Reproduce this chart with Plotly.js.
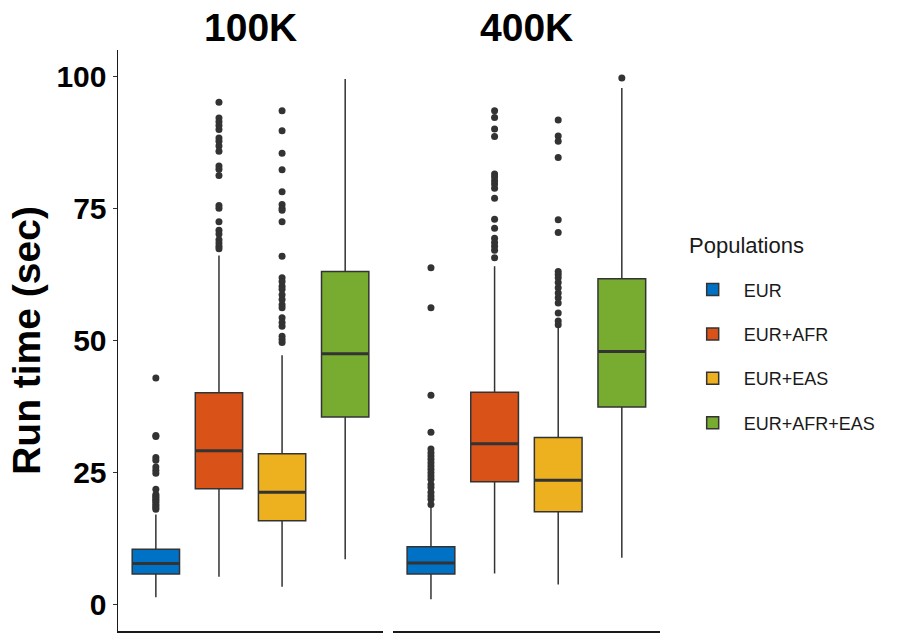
<!DOCTYPE html>
<html>
<head>
<meta charset="utf-8">
<script src="https://cdn.plot.ly/plotly-3.0.1.min.js"></script>
<style>html,body{margin:0;padding:0;background:#fff}#chart{width:908px;height:634px}</style>
</head>
<body>
<div id="chart"></div>
<script>
// ---- data ----
const populations = ['EUR', 'EUR+AFR', 'EUR+EAS', 'EUR+AFR+EAS'];
const facets = ['100K', '400K'];
const popColors = ['#0072C6', '#D95319', '#EDB120', '#77AC30'];

// 100K panel box statistics (per population)
const lower_100K  = [1.3, 5.2, 3.3, 8.5];
const q1_100K     = [5.7, 21.9, 15.8, 35.5];
const median_100K = [7.7, 29.1, 21.2, 47.5];
const q3_100K     = [10.4, 40.1, 28.5, 63.1];
const upper_100K  = [17.0, 66.1, 47.2, 99.6];

// 400K panel box statistics (per population)
const lower_400K  = [0.9, 5.8, 3.7, 8.8];
const q1_400K     = [5.7, 23.2, 17.5, 37.4];
const median_400K = [7.8, 30.4, 23.5, 47.9];
const q3_400K     = [10.9, 40.2, 31.6, 61.7];
const upper_400K  = [18.6, 64.1, 52.7, 97.9];

// outliers
const out_100K_EUR = [42.9, 32.0, 31.8, 27.8, 27.3, 26.0, 25.4, 24.8, 21.8, 20.8, 20.5, 20.2, 19.9, 19.6, 19.3, 18.9, 18.6, 18.3, 18.0];
const out_100K_AFR = [95.2, 92.2, 91.5, 90.8, 90.0, 88.4, 87.8, 86.9, 85.9, 83.1, 82.5, 81.3, 75.6, 75.1, 72.5, 70.9, 70.2, 69.1, 68.5, 67.9, 67.4];
const out_100K_EAS = [93.6, 89.8, 85.5, 82.4, 78.2, 75.8, 75.1, 74.7, 72.5, 66.0, 61.9, 61.2, 60.3, 59.7, 58.7, 57.8, 56.8, 56.2, 54.3, 53.4, 52.7, 50.8, 50.2, 49.6];
const out_100K_AFR_EAS = [];
const out_400K_EUR = [63.8, 56.2, 39.6, 32.6, 29.4, 28.7, 28.1, 27.5, 26.8, 26.2, 25.6, 24.9, 24.3, 23.7, 22.7, 22.1, 21.2, 20.5, 19.9, 18.9];
const out_400K_AFR = [93.6, 92.3, 90.1, 88.7, 81.6, 81.0, 80.3, 79.7, 78.9, 77.0, 73.0, 71.3, 69.4, 68.6, 67.9, 67.1, 65.7];
const out_400K_EAS = [91.8, 88.8, 87.8, 84.7, 72.9, 70.5, 63.1, 62.5, 61.9, 61.0, 60.0, 59.0, 58.1, 57.1, 55.2, 53.7, 53.0];
const out_400K_AFR_EAS = [99.8];

const yTicks = [0, 25, 50, 75, 100];

// ---- build traces ----
const stats = {
  '100K': {lower: lower_100K, q1: q1_100K, med: median_100K, q3: q3_100K, upper: upper_100K,
           out: [out_100K_EUR, out_100K_AFR, out_100K_EAS, out_100K_AFR_EAS], xa: 'x'},
  '400K': {lower: lower_400K, q1: q1_400K, med: median_400K, q3: q3_400K, upper: upper_400K,
           out: [out_400K_EUR, out_400K_AFR, out_400K_EAS, out_400K_AFR_EAS], xa: 'x2'}
};

const FONT = 'Liberation Sans, Arial, sans-serif';
const traces = [];
facets.forEach((f, fi) => {
  const s = stats[f];
  populations.forEach((p, i) => {
    traces.push({
      type: 'box', name: p, legendgroup: p, showlegend: fi === 0,
      x: [p], xaxis: s.xa, yaxis: 'y',
      lowerfence: [s.lower[i]], q1: [s.q1[i]], median: [s.med[i]], q3: [s.q3[i]], upperfence: [s.upper[i]],
      boxpoints: false, whiskerwidth: 0, width: 0.75,
      fillcolor: popColors[i], line: {color: '#333333', width: 1.5},
      hoverinfo: 'skip'
    });
  });
});
// thicker median bars (a flat box drawn at each median)
facets.forEach((f) => {
  const s = stats[f];
  populations.forEach((p, i) => {
    traces.push({
      type: 'box', name: p, legendgroup: p, showlegend: false,
      x: [p], xaxis: s.xa, yaxis: 'y',
      lowerfence: [s.med[i]], q1: [s.med[i]], median: [s.med[i]], q3: [s.med[i]], upperfence: [s.med[i]],
      boxpoints: false, whiskerwidth: 0, width: 0.74,
      fillcolor: 'rgba(0,0,0,0)', line: {color: '#333333', width: 3},
      hoverinfo: 'skip'
    });
  });
});
facets.forEach((f) => {
  const s = stats[f];
  populations.forEach((p, i) => {
    traces.push({
      type: 'scatter', mode: 'markers', name: p, legendgroup: p, showlegend: false,
      x: s.out[i].map(() => p), y: s.out[i], xaxis: s.xa, yaxis: 'y',
      marker: {color: '#333333', size: 7}, hoverinfo: 'skip'
    });
  });
});

const xCommon = {
  type: 'category', categoryorder: 'array', categoryarray: populations,
  range: [-0.6, 3.6], showgrid: false, zeroline: false,
  showline: true, linecolor: '#1a1a1a', linewidth: 1.5,
  ticks: '', showticklabels: false, fixedrange: true
};

const layout = {
  width: 908, height: 634,
  margin: {l: 118, r: 248, t: 50, b: 3},
  paper_bgcolor: '#ffffff', plot_bgcolor: '#ffffff',
  showlegend: true,
  boxmode: 'overlay',
  xaxis: Object.assign({}, xCommon, {domain: [0, 0.489], anchor: 'y'}),
  xaxis2: Object.assign({}, xCommon, {domain: [0.507, 1], anchor: 'y'}),
  yaxis: {
    range: [-5.1, 105.1], tickvals: yTicks, ticktext: yTicks.map(String),
    showgrid: false, zeroline: false, showline: true, linecolor: '#1a1a1a', linewidth: 1.5,
    ticks: 'outside', ticklen: 4, tickwidth: 1.2, tickcolor: '#333333',
    tickfont: {family: FONT, size: 30, weight: 'bold', color: '#000000'},
    title: {text: 'Run time (sec)', font: {family: FONT, size: 39, weight: 'bold', color: '#000000'}, standoff: 4},
    anchor: 'x', fixedrange: true
  },
  legend: {
    x: 1.04, xanchor: 'left', y: 0.619, yanchor: 'top',
    font: {family: FONT, size: 18, color: '#1a1a1a'},
    traceorder: 'grouped', tracegroupgap: 18, itemwidth: 52,
    bgcolor: 'rgba(0,0,0,0)'
  },
  annotations: facets.map((f, i) => ({
    text: f, xref: 'paper', yref: 'paper',
    x: i === 0 ? 0.2445 : 0.7535, y: 1.038, xanchor: 'center', yanchor: 'middle',
    showarrow: false, font: {family: FONT, size: 39, weight: 'bold', color: '#000000'}
  })).concat([{
    text: 'Populations', xref: 'paper', yref: 'paper',
    x: 1.05, y: 0.664, xanchor: 'left', yanchor: 'middle',
    showarrow: false, font: {family: FONT, size: 22, color: '#1a1a1a'}
  }])
};

Plotly.newPlot('chart', traces, layout, {staticPlot: true, displayModeBar: false});
</script>
</body>
</html>
